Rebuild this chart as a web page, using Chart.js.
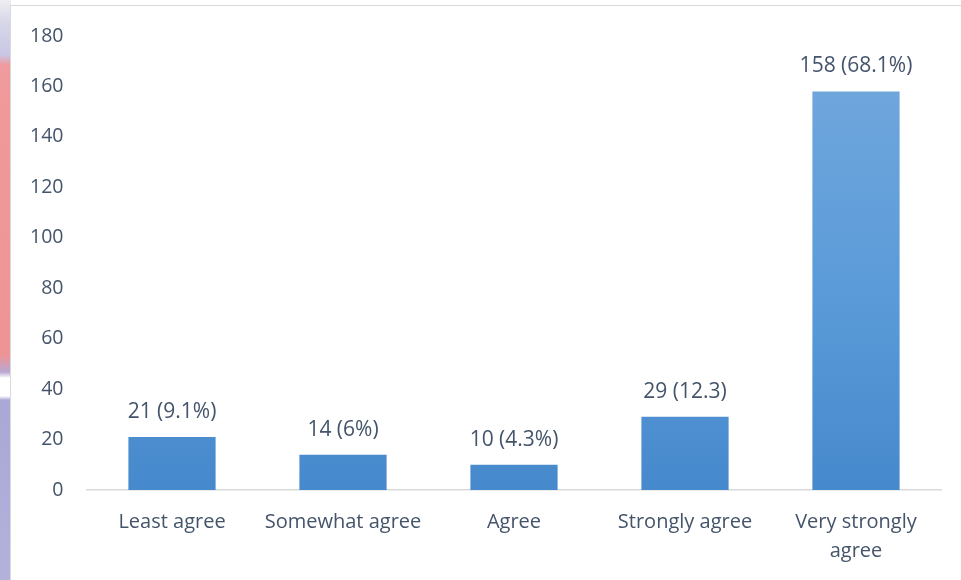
<!DOCTYPE html>
<html>
<head>
<meta charset="utf-8">
<script src="https://cdn.jsdelivr.net/npm/chart.js@4"></script>
<style>
  html, body { margin: 0; padding: 0; background: #ffffff; }
  #wrap { position: relative; width: 961px; height: 580px; overflow: hidden; background: #ffffff; }
  #strip { position: absolute; left: 0; top: 0; width: 11px; height: 580px;
    background: linear-gradient(to bottom, #eeeef2 0px, #d9d9ea 20px, #c8c6e4 55px, #ef9a9c 65px, #ee9496 355px, #b9a7d2 372px, #ffffff 378px, #ffffff 396px, #a9a8d6 400px, #b3b2dc 580px); }
  #box { position: absolute; left: 10px; top: 5px; width: 960px; height: 600px; border-left: 1px solid #d9d9d9; border-top: 1px solid #d9d9d9; background: #fff; }
  canvas { position: absolute; left: 0; top: 0; }
</style>
</head>
<body>
<div id="wrap">
  <div id="strip"></div>
  <div id="box"></div>
  <canvas id="c" width="961" height="580"></canvas>
</div>
<script>
const categories = ["Least agree", "Somewhat agree", "Agree", "Strongly agree", ["Very strongly", "agree"]];
const counts = [21, 14, 10, 29, 158];
const valueLabels = ["21 (9.1%)", "14 (6%)", "10 (4.3%)", "29 (12.3)", "158 (68.1%)"];
const yTicks = [0, 20, 40, 60, 80, 100, 120, 140, 160, 180];

const textColor = "#44546a";
const fontFamily = "'Open Sans', 'Liberation Sans', sans-serif";

const barLabelPlugin = {
  id: "barLabels",
  afterDatasetsDraw(chart) {
    const ctx = chart.ctx;
    const meta = chart.getDatasetMeta(0);
    ctx.save();
    ctx.fillStyle = textColor;
    ctx.font = "21px " + fontFamily;
    ctx.textAlign = "center";
    ctx.textBaseline = "middle";
    meta.data.forEach((bar, i) => {
      ctx.fillText(valueLabels[i], bar.x, bar.y - 25);
    });
    ctx.restore();
  }
};

new Chart(document.getElementById("c"), {
  type: "bar",
  data: {
    labels: categories,
    datasets: [{
      data: counts,
      backgroundColor(context) {
        const chart = context.chart;
        const area = chart.chartArea;
        if (!area) return "#5b9bd5";
        const y0 = chart.scales.y.getPixelForValue(0);
        const y1 = chart.scales.y.getPixelForValue(160);
        const g = chart.ctx.createLinearGradient(0, y1, 0, y0);
        g.addColorStop(0, "#6fa6dc");
        g.addColorStop(0.5, "#5b9bd9");
        g.addColorStop(1, "#4689cc");
        return g;
      },
      borderWidth: 0,
      barPercentage: 0.51,
      categoryPercentage: 1.0
    }]
  },
  options: {
    responsive: false,
    animation: false,
    layout: { padding: { left: 10, right: 19.5, top: 36, bottom: 0 } },
    plugins: { legend: { display: false }, tooltip: { enabled: false } },
    scales: {
      x: {
        grid: { display: false, drawTicks: false },
        border: { display: true, color: "#d9d9d9", width: 1.5 },
        ticks: { color: textColor, font: { size: 20, family: fontFamily, lineHeight: 1.45 }, padding: 18, maxRotation: 0, autoSkip: false },
        afterFit(scale) { scale.height = 90; }
      },
      y: {
        min: 0, max: 180,
        afterBuildTicks(scale) { scale.ticks = yTicks.map(v => ({ value: v })); },
        grid: { display: false, drawTicks: false },
        border: { display: false },
        ticks: { color: textColor, font: { size: 19.5, family: fontFamily }, padding: 23 },
        afterFit(scale) { scale.width = 76.5; }
      }
    }
  },
  plugins: [barLabelPlugin]
});
</script>
</body>
</html>
